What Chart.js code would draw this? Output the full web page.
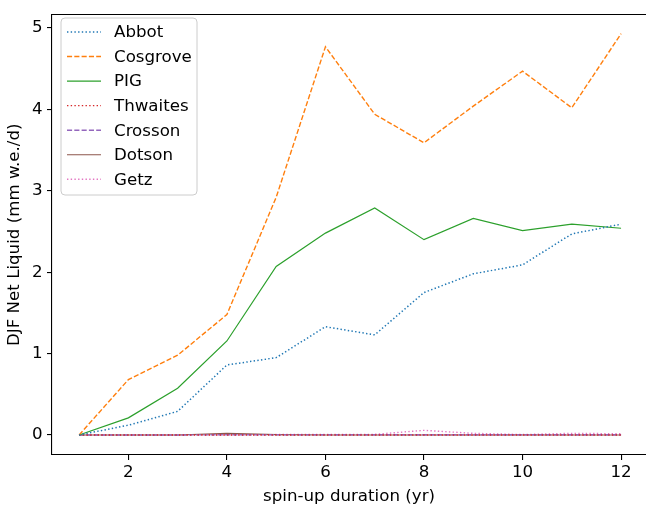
<!DOCTYPE html>
<html>
<head>
<meta charset="utf-8">
<script src="https://cdn.jsdelivr.net/npm/chart.js@4/dist/chart.umd.min.js"></script>
<style>
  html, body { margin: 0; padding: 0; background: #fff; overflow: hidden; width: 646px; height: 508px; }
  #c { display: block; }
</style>
</head>
<body>
<canvas id="c" width="646" height="508" style="width:646px;height:508px"></canvas>
<script>
const years = [1, 2, 3, 4, 5, 6, 7, 8, 9, 10, 11, 12];
const xTicks = [2, 4, 6, 8, 10, 12];
const yTicks = [0, 1, 2, 3, 4, 5];
const seriesNames = ['Abbot', 'Cosgrove', 'PIG', 'Thwaites', 'Crosson', 'Dotson', 'Getz'];
const abbot    = [0, 0.12, 0.29, 0.86, 0.95, 1.33, 1.23, 1.75, 1.98, 2.09, 2.47, 2.59];
const cosgrove = [0, 0.68, 0.98, 1.48, 2.92, 4.77, 3.94, 3.59, 4.04, 4.47, 4.02, 4.93];
const pig      = [0, 0.21, 0.575, 1.155, 2.07, 2.48, 2.79, 2.40, 2.66, 2.51, 2.59, 2.54];
const thwaites = [0, 0, 0, 0, 0, 0, 0, 0, 0, 0, 0, 0];
const crosson  = [0, 0, 0, 0.003, 0.002, 0.002, 0.002, 0.002, 0.002, 0.002, 0.002, 0.002];
const dotson   = [0, 0, 0, 0.02, 0.005, 0, 0, 0, 0, 0, 0, 0];
const getz     = [0, 0, 0, 0.003, 0.005, 0.008, 0.008, 0.057, 0.02, 0.005, 0.02, 0.015];

const seriesValues = [abbot, cosgrove, pig, thwaites, crosson, dotson, getz];
const colors = ['#1f77b4', '#ff7f0e', '#2ca02c', '#d62728', '#9467bd', '#8c564b', '#e377c2'];
const dotted = [1.4, 2.3];
const dashed = [5.1, 2.2];
const dashes = [dotted, dashed, [], dotted, dashed, [], dotted];
const widths = [1.5, 1.4, 1.2, 1.4, 1.4, 1.2, 1.4];

const FONT = 'DejaVu Sans';
const FS = 16.67;

const datasets = seriesNames.map((name, i) => ({
  label: name,
  data: years.map((x, j) => ({ x: x, y: seriesValues[i][j] })),
  borderColor: colors[i],
  backgroundColor: colors[i],
  borderWidth: widths[i],
  borderDash: dashes[i],
  pointRadius: 0,
  tension: 0,
  fill: false
}));

const spinePlugin = {
  id: 'spines',
  afterDraw(chart) {
    const ctx = chart.ctx;
    const a = chart.chartArea;
    ctx.save();
    // keep the right edge clear (the reference's right spine lies outside the picture)
    ctx.fillStyle = '#fff';
    ctx.fillRect(638, a.top + 2, chart.width - 638, a.bottom - a.top - 4);
    ctx.strokeStyle = '#000';
    ctx.lineWidth = 1.1;
    ctx.beginPath();
    ctx.moveTo(a.left, a.top);
    ctx.lineTo(chart.width, a.top);
    ctx.stroke();
    ctx.restore();
  }
};

const legendPlugin = {
  id: 'mplLegend',
  afterDraw(chart) {
    const ctx = chart.ctx;
    const bx = 61, by = 18, bw = 136, bh = 177, r = 4;
    ctx.save();
    ctx.beginPath();
    ctx.moveTo(bx + r, by);
    ctx.lineTo(bx + bw - r, by);
    ctx.quadraticCurveTo(bx + bw, by, bx + bw, by + r);
    ctx.lineTo(bx + bw, by + bh - r);
    ctx.quadraticCurveTo(bx + bw, by + bh, bx + bw - r, by + bh);
    ctx.lineTo(bx + r, by + bh);
    ctx.quadraticCurveTo(bx, by + bh, bx, by + bh - r);
    ctx.lineTo(bx, by + r);
    ctx.quadraticCurveTo(bx, by, bx + r, by);
    ctx.closePath();
    ctx.fillStyle = 'rgba(255,255,255,0.8)';
    ctx.fill();
    ctx.strokeStyle = '#cccccc';
    ctx.lineWidth = 1;
    ctx.stroke();
    ctx.font = FS + 'px "' + FONT + '"';
    ctx.textBaseline = 'middle';
    ctx.textAlign = 'left';
    chart.data.datasets.forEach((ds, i) => {
      const y = 32 + i * 24.55;
      ctx.beginPath();
      ctx.setLineDash(ds.borderDash || []);
      ctx.strokeStyle = ds.borderColor;
      ctx.lineWidth = ds.borderWidth;
      ctx.moveTo(67, y);
      ctx.lineTo(101, y);
      ctx.stroke();
      ctx.setLineDash([]);
      ctx.fillStyle = '#000';
      ctx.fillText(ds.label, 114, y + 1);
    });
    ctx.restore();
  }
};

new Chart(document.getElementById('c'), {
  type: 'line',
  data: { datasets: datasets },
  options: {
    responsive: false,
    maintainAspectRatio: false,
    animation: false,
    devicePixelRatio: 1,
    layout: { padding: { left: 0, top: 10, right: 0, bottom: 0 } },
    plugins: { legend: { display: false }, tooltip: { enabled: false } },
    scales: {
      x: {
        type: 'linear',
        min: 0.45,
        max: 12.506,
        afterBuildTicks(scale) { scale.ticks = xTicks.map(v => ({ value: v })); },
        afterFit(scale) { scale.height = 53; },
        grid: { display: true, drawOnChartArea: false, drawTicks: true, tickLength: 5, color: '#000', lineWidth: 1.1 },
        border: { display: true, color: '#000', width: 1.1 },
        ticks: { color: '#000', font: { family: FONT, size: FS }, padding: 3, maxRotation: 0, autoSkip: false },
        title: { display: true, text: 'spin-up duration (yr)', color: '#000', font: { family: FONT, size: FS }, padding: { top: 0, bottom: 1 } }
      },
      y: {
        type: 'linear',
        min: -0.246,
        max: 5.166,
        afterBuildTicks(scale) { scale.ticks = yTicks.map(v => ({ value: v })); },
        afterFit(scale) { scale.width = 52; },
        grid: { display: true, drawOnChartArea: false, drawTicks: true, tickLength: 5, color: '#000', lineWidth: 1.1 },
        border: { display: true, color: '#000', width: 1.1 },
        ticks: { color: '#000', font: { family: FONT, size: FS }, padding: 4.5 },
        title: { display: true, text: 'DJF Net Liquid (mm w.e./d)', color: '#000', font: { family: FONT, size: FS }, padding: { top: 5, bottom: 0 } }
      }
    }
  },
  plugins: [spinePlugin, legendPlugin]
});
</script>
</body>
</html>
